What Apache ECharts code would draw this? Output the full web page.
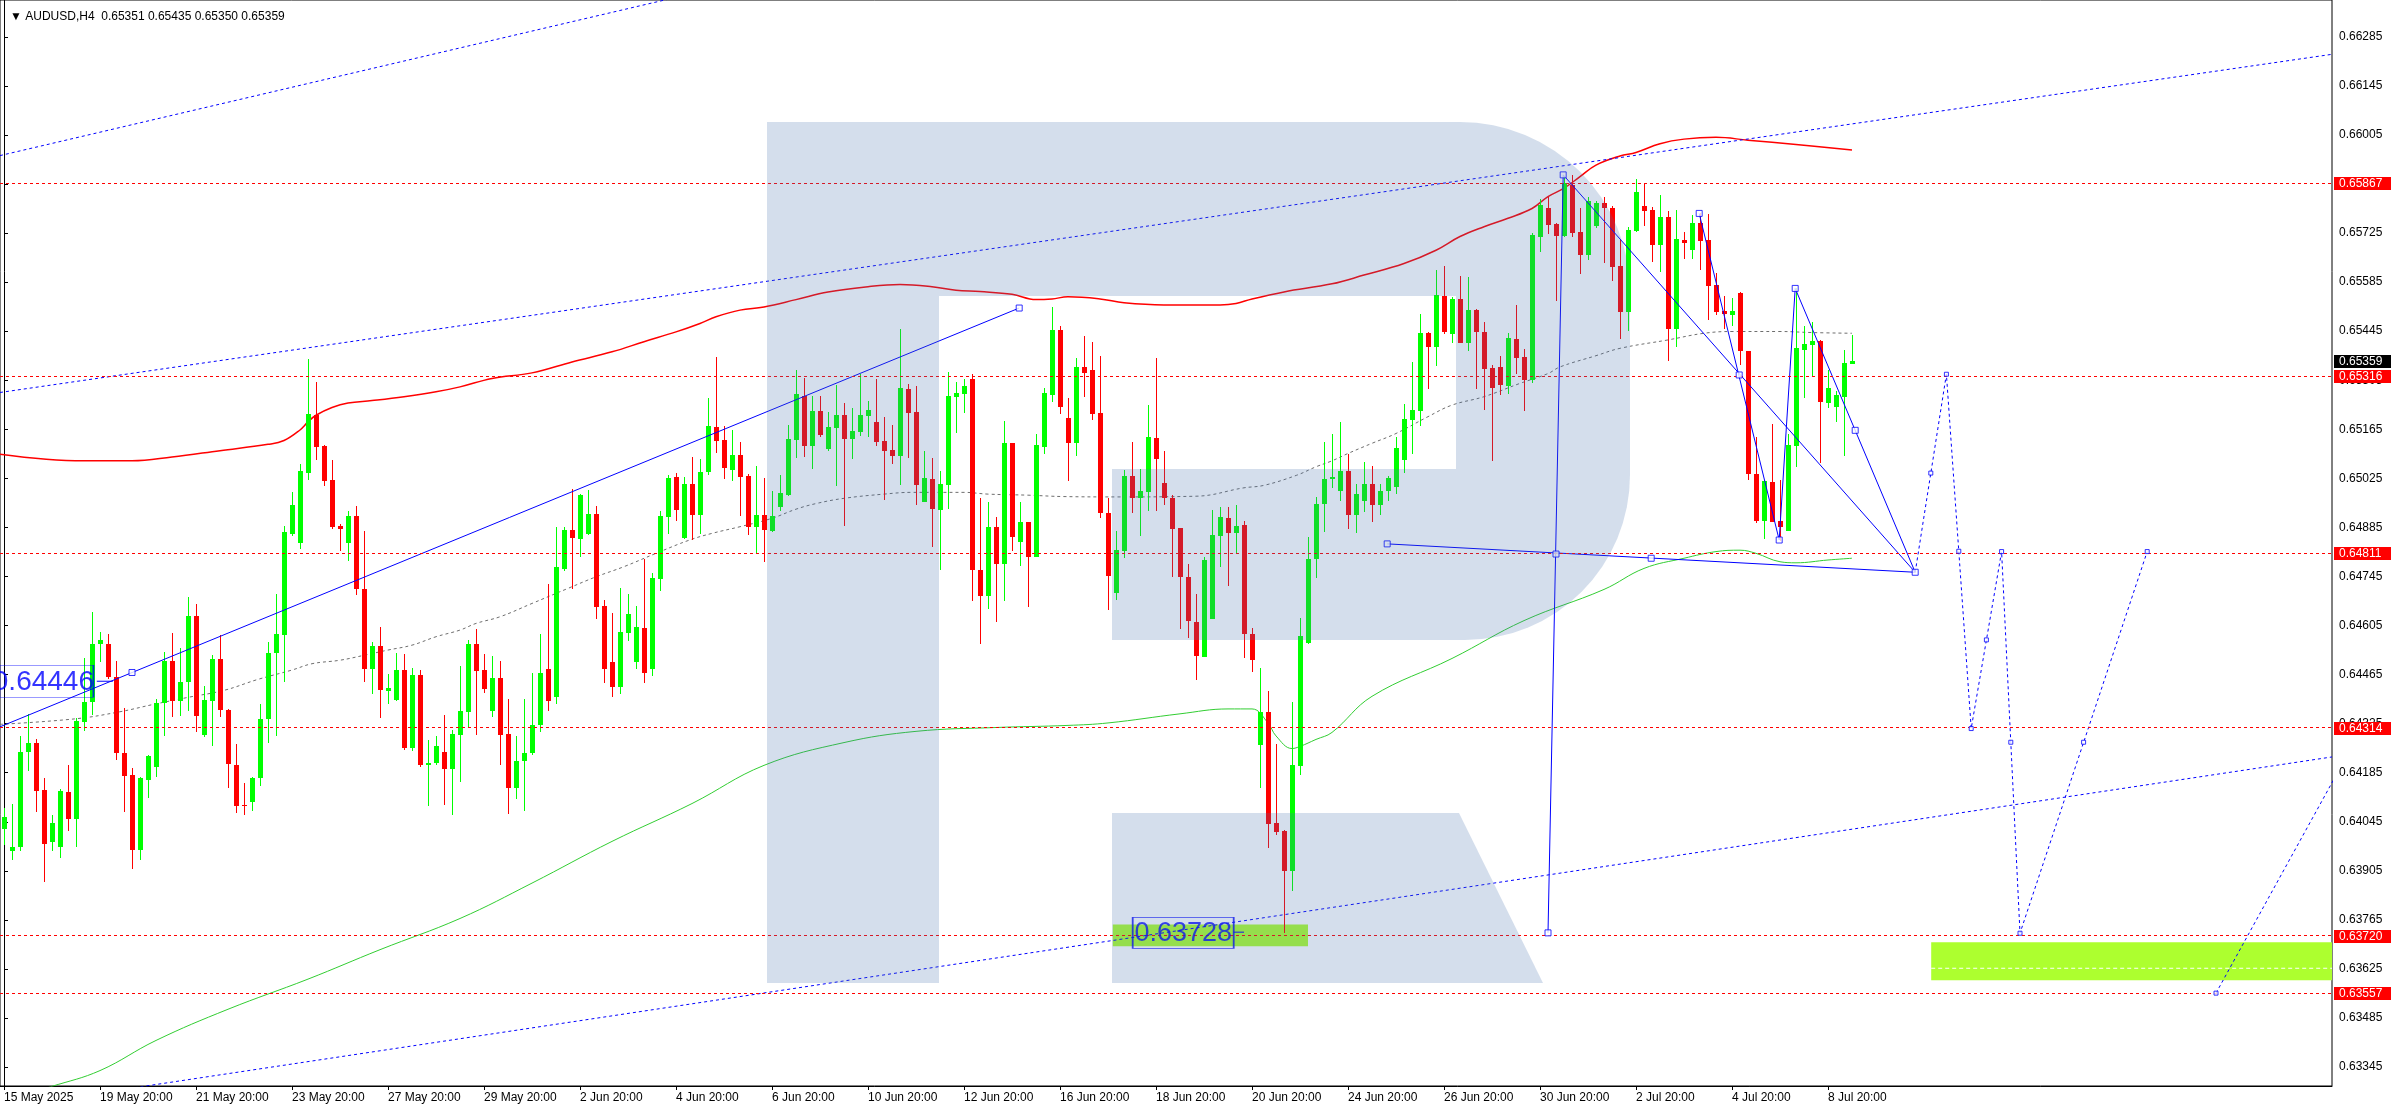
<!DOCTYPE html>
<html><head><meta charset="utf-8">
<script src="https://cdn.jsdelivr.net/npm/echarts@6/dist/echarts.min.js"></script>
<style>html,body{margin:0;padding:0;background:#fff}#c{width:2396px;height:1110px}</style>
</head><body><div id="c"></div>
<script>
// ---- candles (H4 bars, bar 0 = 15 May 2025 20:00) ----
const opens = [0.64023,0.63961,0.63972,0.64245,0.64269,0.64135,0.63986,0.63972,0.64129,0.64053,
0.64329,0.64388,0.64551,0.64551,0.64459,0.64240,0.64178,0.63965,0.64165,0.64200,
0.64385,0.64505,0.64390,0.64444,0.64632,0.64293,0.64390,0.64509,0.64364,0.64208,
0.64094,0.64102,0.64171,0.64337,0.64527,0.64578,0.64866,0.64841,0.65041,0.65205,
0.65117,0.65020,0.64889,0.64841,0.64917,0.64709,0.64481,0.64546,0.64418,0.64392,
0.64478,0.64256,0.64463,0.64206,0.64212,0.64243,0.64196,0.64292,0.64359,0.64552,
0.64478,0.64361,0.64454,0.64295,0.64142,0.64217,0.64240,0.64322,0.64480,0.64400,
0.64766,0.64877,0.64852,0.64866,0.64923,0.64660,0.64500,0.64430,0.64584,0.64500,
0.64598,0.64480,0.64737,0.64914,0.65028,0.64855,0.65008,0.64920,0.65043,0.65171,
0.65134,0.65048,0.65091,0.65031,0.64887,0.64920,0.64874,0.64943,0.64977,0.65134,
0.65261,0.65118,0.65217,0.65108,0.65169,0.65205,0.65137,0.65158,0.65203,0.65185,
0.65131,0.65106,0.65088,0.65280,0.65214,0.64957,0.65023,0.64934,0.65006,0.65257,
0.65265,0.65308,0.64763,0.64689,0.64886,0.64780,0.65126,0.64843,0.64900,0.64800,
0.65114,0.65262,0.65448,0.65198,0.65127,0.65343,0.65333,0.65211,0.64927,0.64697,
0.64818,0.65032,0.64969,0.64985,0.65141,0.65012,0.64970,0.64883,0.64743,0.64615,
0.64516,0.64625,0.64861,0.64912,0.64868,0.64892,0.64581,0.64264,0.64357,0.64041,
0.64018,0.63904,0.64205,0.64556,0.64795,0.64952,0.65024,0.64990,0.65046,0.64920,
0.64960,0.65010,0.64950,0.64990,0.65000,0.65077,0.65191,0.65218,0.65440,0.65401,
0.65545,0.65438,0.65537,0.65412,0.65505,0.65442,0.65340,0.65343,0.65289,0.65422,
0.65371,0.65306,0.65715,0.65796,0.65751,0.65717,0.65862,0.65728,0.65663,0.65746,
0.65811,0.65797,0.65631,0.65501,0.65731,0.65802,0.65791,0.65691,0.65771,0.65451,
0.65705,0.65678,0.65754,0.65705,0.65578,0.65503,0.65492,0.65555,0.65388,0.65038,
0.64904,0.65015,0.64904,0.64876,0.65118,0.65392,0.65406,0.65417,0.65241,0.65229,
0.65258,0.65351];
const highs = [0.64084,0.64097,0.64290,0.64352,0.64280,0.64170,0.64065,0.64138,0.64208,0.64342,
0.64512,0.64643,0.64586,0.64581,0.64505,0.64371,0.64198,0.64174,0.64235,0.64395,
0.64529,0.64584,0.64541,0.64686,0.64666,0.64433,0.64522,0.64579,0.64367,0.64267,
0.64157,0.64174,0.64380,0.64557,0.64694,0.64889,0.64985,0.65067,0.65365,0.65300,
0.65120,0.65077,0.64896,0.64931,0.64946,0.64874,0.64559,0.64600,0.64466,0.64526,
0.64523,0.64485,0.64477,0.64278,0.64289,0.64349,0.64306,0.64489,0.64563,0.64594,
0.64523,0.64517,0.64503,0.64395,0.64289,0.64395,0.64470,0.64580,0.64723,0.64886,
0.64886,0.64996,0.64979,0.64991,0.64945,0.64677,0.64641,0.64712,0.64695,0.64660,
0.64794,0.64754,0.64931,0.65035,0.65040,0.65028,0.65085,0.65080,0.65254,0.65371,
0.65174,0.65163,0.65128,0.65037,0.65060,0.65026,0.64988,0.65034,0.65177,0.65334,
0.65311,0.65260,0.65261,0.65214,0.65291,0.65239,0.65225,0.65324,0.65245,0.65308,
0.65200,0.65177,0.65451,0.65294,0.65288,0.65103,0.65083,0.65046,0.65328,0.65300,
0.65308,0.65322,0.64969,0.64957,0.64914,0.65188,0.65126,0.64957,0.64900,0.65151,
0.65282,0.65514,0.65459,0.65255,0.65367,0.65432,0.65415,0.65375,0.64970,0.64875,
0.65049,0.65129,0.65052,0.65235,0.65367,0.65102,0.64978,0.64883,0.64782,0.64695,
0.64800,0.64935,0.64944,0.64944,0.64949,0.64903,0.64598,0.64484,0.64417,0.64268,
0.64021,0.64387,0.64626,0.64859,0.64972,0.65129,0.65151,0.65185,0.65094,0.65010,
0.65071,0.65060,0.65010,0.65031,0.65144,0.65237,0.65357,0.65494,0.65443,0.65619,
0.65631,0.65543,0.65602,0.65599,0.65509,0.65471,0.65348,0.65374,0.65440,0.65519,
0.65394,0.65724,0.65822,0.65828,0.65754,0.65886,0.65891,0.65796,0.65828,0.65817,
0.65828,0.65802,0.65707,0.65743,0.65879,0.65866,0.65799,0.65834,0.65788,0.65791,
0.65728,0.65776,0.65782,0.65779,0.65612,0.65545,0.65540,0.65558,0.65388,0.65144,
0.65020,0.65181,0.65021,0.65152,0.65567,0.65460,0.65472,0.65420,0.65334,0.65274,
0.65391,0.65435];
const lows = [0.63980,0.63936,0.63963,0.64191,0.64074,0.63872,0.63963,0.63943,0.64020,0.63974,
0.64305,0.64351,0.64502,0.64453,0.64222,0.64072,0.63910,0.63936,0.64114,0.64174,
0.64291,0.64344,0.64347,0.64362,0.64301,0.64288,0.64262,0.64344,0.64140,0.64069,
0.64065,0.64076,0.64147,0.64271,0.64290,0.64444,0.64861,0.64823,0.65021,0.65077,
0.65004,0.64880,0.64818,0.64790,0.64692,0.64444,0.64410,0.64341,0.64382,0.64389,
0.64251,0.64247,0.64201,0.64090,0.64208,0.64093,0.64065,0.64159,0.64314,0.64294,
0.64413,0.64344,0.64208,0.64068,0.64111,0.64075,0.64235,0.64300,0.64360,0.64380,
0.64760,0.64708,0.64801,0.64863,0.64624,0.64440,0.64400,0.64410,0.64560,0.64480,
0.64440,0.64460,0.64703,0.64866,0.64903,0.64851,0.64849,0.64866,0.65034,0.65097,
0.65023,0.65018,0.64917,0.64863,0.64811,0.64786,0.64872,0.64931,0.64975,0.65083,
0.65087,0.65051,0.65144,0.65103,0.65003,0.64889,0.65080,0.65145,0.65143,0.65117,
0.64963,0.65066,0.65007,0.65083,0.64949,0.64957,0.64829,0.64763,0.64937,0.65153,
0.65211,0.64674,0.64552,0.64652,0.64615,0.64675,0.64817,0.64775,0.64658,0.64800,
0.65094,0.65242,0.65208,0.65018,0.65088,0.65258,0.65191,0.64912,0.64650,0.64677,
0.64799,0.64925,0.64861,0.64932,0.64932,0.64949,0.64744,0.64595,0.64570,0.64449,
0.64516,0.64625,0.64771,0.64719,0.64811,0.64513,0.64473,0.64141,0.63970,0.64008,
0.63728,0.63847,0.64179,0.64553,0.64742,0.64872,0.64998,0.64960,0.64880,0.64870,
0.64930,0.64900,0.64920,0.64960,0.64980,0.65039,0.65095,0.65175,0.65281,0.65346,
0.65437,0.65412,0.65412,0.65389,0.65281,0.65221,0.65075,0.65263,0.65266,0.65323,
0.65218,0.65298,0.65672,0.65723,0.65532,0.65715,0.65715,0.65609,0.65649,0.65740,
0.65640,0.65589,0.65424,0.65446,0.65728,0.65746,0.65643,0.65615,0.65361,0.65401,
0.65652,0.65652,0.65620,0.65478,0.65492,0.65452,0.65461,0.65349,0.65021,0.64898,
0.64853,0.64901,0.64847,0.64876,0.65056,0.65255,0.65317,0.65070,0.65227,0.65187,
0.65088,0.65350];
const closes = [0.64060,0.63972,0.64245,0.64270,0.64133,0.63982,0.64041,0.64132,0.64053,0.64332,
0.64388,0.64551,0.64565,0.64459,0.64242,0.64176,0.63965,0.64170,0.64232,0.64383,
0.64505,0.64390,0.64443,0.64632,0.64346,0.64392,0.64509,0.64364,0.64210,0.64091,
0.64090,0.64171,0.64339,0.64528,0.64580,0.64871,0.64948,0.65046,0.65208,0.65115,
0.65018,0.64887,0.64881,0.64917,0.64708,0.64481,0.64546,0.64421,0.64428,0.64479,
0.64256,0.64463,0.64206,0.64214,0.64262,0.64196,0.64295,0.64360,0.64552,0.64476,
0.64424,0.64454,0.64293,0.64142,0.64218,0.64240,0.64322,0.64470,0.64390,0.64772,
0.64877,0.64855,0.64977,0.64923,0.64658,0.64480,0.64430,0.64586,0.64637,0.64600,
0.64470,0.64740,0.64917,0.65026,0.64934,0.65008,0.64921,0.65043,0.65174,0.65131,
0.65055,0.65091,0.65028,0.64887,0.64920,0.64877,0.64917,0.64983,0.65137,0.65265,
0.65118,0.65217,0.65148,0.65171,0.65205,0.65137,0.65160,0.65205,0.65220,0.65128,
0.65103,0.65088,0.65282,0.65211,0.65006,0.65026,0.64937,0.65009,0.65260,0.65268,
0.65288,0.64763,0.64689,0.64886,0.64780,0.65126,0.64857,0.64900,0.64800,0.65120,
0.65268,0.65448,0.65228,0.65127,0.65343,0.65327,0.65210,0.64925,0.64747,0.64820,
0.65032,0.64969,0.64989,0.65143,0.65081,0.64969,0.64881,0.64744,0.64617,0.64518,
0.64792,0.64863,0.64915,0.64868,0.64889,0.64580,0.64508,0.64359,0.64040,0.64017,
0.63904,0.64206,0.64574,0.64795,0.64952,0.65024,0.65030,0.65046,0.64920,0.64980,
0.65010,0.64950,0.64990,0.65025,0.65112,0.65194,0.65220,0.65440,0.65401,0.65548,
0.65443,0.65537,0.65412,0.65505,0.65443,0.65338,0.65284,0.65292,0.65425,0.65369,
0.65306,0.65719,0.65805,0.65749,0.65717,0.65868,0.65726,0.65663,0.65816,0.65811,
0.65797,0.65629,0.65501,0.65734,0.65842,0.65788,0.65691,0.65771,0.65451,0.65708,
0.65698,0.65754,0.65703,0.65575,0.65501,0.65495,0.65503,0.65389,0.65036,0.64904,
0.65018,0.64901,0.64887,0.65121,0.65397,0.65408,0.65417,0.65244,0.65283,0.65263,
0.65353,0.65359];

// ---- axes ----
const xTickBars = [0,12,24,36,48,60,72,84,96,108,120,132,144,156,168,180,192,204,216,228];
const xTickLabels = ['15 May 2025','19 May 20:00','21 May 20:00','23 May 20:00','27 May 20:00','29 May 20:00',
 '2 Jun 20:00','4 Jun 20:00','6 Jun 20:00','10 Jun 20:00','12 Jun 20:00','16 Jun 20:00','18 Jun 20:00',
 '20 Jun 20:00','24 Jun 20:00','26 Jun 20:00','30 Jun 20:00','2 Jul 20:00','4 Jul 20:00','8 Jul 20:00'];
const yTickValues = [0.63345,0.63485,0.63625,0.63765,0.63905,0.64045,0.64185,0.64325,0.64465,0.64605,0.64745,
 0.64885,0.65025,0.65165,0.65305,0.65445,0.65585,0.65725,0.65865,0.66005,0.66145,0.66285];

// ---- levels / labels ----
const levelLines = [0.65867,0.65316,0.64811,0.64314,0.63720,0.63557];
const lastPrice = 0.65359;
const titleText = '\u25BC AUDUSD,H4  0.65351 0.65435 0.65350 0.65359';

// ---- moving averages (bar index, price) ----
const maRed = [[-0.5,0.65094],[10,0.65075],[16,0.65075],[21,0.65086],[27,0.65104],[33,0.65122],[35,0.65133],[37,0.65163],[38,0.65186],[39,0.65205],[41,0.65227],[43,0.65240],[46,0.65247],[50,0.65258],[54,0.65272],[57,0.65286],[61,0.65310],[66,0.65326],[71,0.65357],[76,0.65386],[80,0.65415],[84,0.65443],[87,0.65467],[89,0.65486],[92,0.65505],[95,0.65514],[99,0.65535],[103,0.65557],[108,0.65572],[112,0.65578],[116,0.65572],[119,0.65562],[122,0.65558],[126,0.65550],[129,0.65535],[131,0.65537],[133,0.65543],[137,0.65537],[140,0.65526],[145,0.65520],[152,0.65520],[154,0.65524],[156,0.65537],[160,0.65557],[166,0.65580],[170,0.65605],[175,0.65638],[179,0.65676],[182,0.65715],[185,0.65743],[188,0.65767],[191,0.65795],[193,0.65829],[195,0.65853],[197,0.65886],[199,0.65919],[202,0.65945],[204,0.65955],[207,0.65980],[210,0.65993],[214,0.65998],[218,0.65990],[224,0.65978],[231,0.65962]];
const maGreen = [[3,0.63270],[6,0.63290],[12,0.63335],[19,0.63421],[28,0.63510],[38,0.63596],[47,0.63680],[57,0.63769],[66,0.63870],[76,0.63989],[86,0.64097],[95,0.64206],[105,0.64271],[114,0.64303],[124,0.64314],[133,0.64320],[138,0.64327],[147,0.64353],[153,0.64367],[156,0.64367],[158,0.64327],[159,0.64290],[161,0.64254],[162,0.64260],[164,0.64280],[166,0.64300],[171,0.64403],[181,0.64511],[190,0.64619],[200,0.64708],[205,0.64768],[210,0.64797],[214,0.64816],[217,0.64820],[219,0.64811],[222,0.64787],[224,0.64784],[228,0.64792],[231,0.64797]];
const maGrey = [[-0.5,0.64323],[9,0.64339],[14.5,0.64359],[18.7,0.64380],[23,0.64400],[27.5,0.64420],[31.7,0.64451],[36,0.64478],[38.5,0.64496],[42,0.64506],[45,0.64520],[48,0.64535],[51,0.64549],[54,0.64573],[57,0.64592],[59,0.64611],[62,0.64630],[66,0.64668],[70.5,0.64711],[74,0.64744],[77.5,0.64773],[81.5,0.64811],[85.7,0.64849],[88.5,0.64868],[92,0.64887],[96,0.64911],[99,0.64937],[101.5,0.64953],[105,0.64968],[110,0.64980],[113.5,0.64985],[120,0.64985],[123,0.64980],[128,0.64977],[132.5,0.64973],[139,0.64972],[149,0.64974],[155,0.64998],[157.5,0.65005],[161.6,0.65034],[164,0.65058],[166,0.65075],[168,0.65096],[171,0.65125],[174,0.65153],[178,0.65201],[181,0.65234],[185,0.65258],[189.5,0.65296],[193,0.65324],[194.5,0.65343],[199,0.65375],[202,0.65396],[208,0.65420],[212.5,0.65439],[216,0.65444],[222,0.65444],[226,0.65441],[231,0.65439]];

// ---- drawn lines (bar index, price) ----
const channelTop = [[-0.5,0.65946],[100,0.66483]];
const channelUpper = [[-0.5,0.65270],[291,0.66235]];
const channelLower = [[0,0.63230],[291,0.64230]];
const forecastRise = [[276.5,0.63556],[292,0.64198]];
const trendA = [[-0.5,0.64316],[126.9,0.65511]];
const zigLines = [
  [[193,0.63728],[194.9,0.65891]],
  [[194.9,0.65891],[238.9,0.64757]],
  [[211.9,0.65781],[221.9,0.64849]],
  [[221.9,0.64849],[223.9,0.65567]],
  [[223.9,0.65567],[238.9,0.64757]],
  [[172.9,0.64838],[238.9,0.64757]]
];
const solidMarkers = [[16,0.64471],[126.9,0.65511],[193,0.63728],[194,0.64809],[194.9,0.65891],[211.9,0.65781],[216.9,0.65320],[221.9,0.64849],[223.9,0.65567],[231.4,0.65162],[238.9,0.64757],[172.9,0.64838],[205.9,0.64797]];
const forecastPath = [[238.9,0.64757],[242.8,0.65322],[245.9,0.64311],[249.7,0.64816],[252,0.63727],[267.9,0.64816]];
const forecastMarkers = [[240.85,0.65040],[242.8,0.65322],[244.35,0.64817],[245.9,0.64311],[247.8,0.64564],[249.7,0.64816],[250.85,0.64272],[252,0.63727],[259.95,0.64272],[267.9,0.64816],[276.5,0.63556]];
const zoneLeft = [[138.6,0.63752],[163,0.63690]];
const zoneRight = [[240.9,0.63701],[291,0.63593]];
const zoneMid = [[240.9,0.63627],[291,0.63627]];
const priceTags = [[5.3,0.64446],[147.4,0.63728]];
const tagLinks = [[[11.6,0.64446],[13.6,0.64446]],[[153.7,0.63730],[155,0.63730]]];

const FONT = 'Liberation Sans';
const BLUE = '#0000FF';
const X_END = 291;
const chart = echarts.init(document.getElementById('c'));
const candleData = opens.map((o,i)=>[i,o,closes[i],lows[i],highs[i]]);

function ln(data, color, type, width, z, smooth){
  return {type:'line', data:data, symbol:'none', smooth:smooth||false, z:z||3, silent:true, clip:true,
    lineStyle:{color:color, type:type, width:width}, emphasis:{disabled:true}, animation:false};
}
// axis price tags drawn through the y scale
function priceTag(values, bg){
  return {type:'custom', z:8, silent:true, clip:false, data:values.map(v=>[X_END, v]), encode:{x:0,y:1},
    renderItem:function(params, api){
      const p = api.coord([api.value(0), api.value(1)]);
      const y = Math.round(p[1]);
      return {type:'group', children:[
        {type:'rect', shape:{x:p[0]+2, y:y-6, width:57, height:13}, style:{fill:bg}},
        {type:'text', style:{x:p[0]+7, y:y+1, text:api.value(1).toFixed(5), fill:'#FFFFFF',
          fontSize:12, fontFamily:FONT, verticalAlign:'middle', align:'left'}}
      ]};
    }};
}
const series = [];
// zones
series.push({type:'line', data:[], z:1, silent:true, markArea:{silent:true, itemStyle:{color:'#ADFF2F', opacity:1},
  data:[[{coord:zoneLeft[0]},{coord:zoneLeft[1]}],[{coord:zoneRight[0]},{coord:zoneRight[1]}]]}});
series.push(ln(zoneMid,'#FFFFFF',[4,3],1,2));
// level lines
series.push({type:'line', data:[], z:2, silent:true, markLine:{silent:true, precision:5, symbol:['none','none'],
  lineStyle:{color:'#FF0000', type:[3,3], width:1}, label:{show:false},
  data:levelLines.map(v=>({yAxis:v}))}});
series.push(priceTag(levelLines,'#FF0000'));
series.push(priceTag([lastPrice],'#000000'));
// MAs
series.push(ln(maGreen,'#32CD32','solid',1,2,0.4));
series.push(ln(maRed,'#FF0000','solid',1.5,2,0.4));
series.push(ln(maGrey,'#6E6E6E',[3,3],1,2,0.4));
// channels
series.push(ln(channelTop,BLUE,[3,3],1,2));
series.push(ln(channelUpper,BLUE,[3,3],1,2));
series.push(ln(channelLower,BLUE,[3,3],1,2));
series.push(ln(forecastRise,BLUE,[3,3],1,2));
series.push(ln(forecastPath,BLUE,[3,3],1,2));
// candles
series.push({type:'custom', data:candleData, z:3, clip:true, silent:true, encode:{x:0,y:[1,2,3,4]},
  renderItem:function(params, api){
    const i=api.value(0), o=api.value(1), c=api.value(2), l=api.value(3), h=api.value(4);
    const pO=api.coord([i,o]), pC=api.coord([i,c]), pH=api.coord([i,h]), pL=api.coord([i,l]);
    const x=Math.floor(pO[0]);
    const col = c>=o ? '#00FF00' : '#FF0000';
    const top=Math.round(Math.min(pO[1],pC[1]));
    let bot=Math.round(Math.max(pO[1],pC[1]));
    if(bot-top<1) bot=top+1;
    const yh=Math.round(pH[1]), yl=Math.round(pL[1]);
    return {type:'group', children:[
      {type:'rect', shape:{x:x, y:yh, width:1, height:Math.max(1,yl-yh)}, style:{fill:col}},
      {type:'rect', shape:{x:x-2, y:top, width:5, height:bot-top}, style:{fill:col}}
    ]};
  }});
// solid blue lines
series.push(ln(trendA,BLUE,'solid',1,4));
zigLines.forEach(z=>series.push(ln(z,BLUE,'solid',1,4)));
tagLinks.forEach(z=>series.push(ln(z,BLUE,'solid',1,4)));
// markers
const markerStyle = {color:'#FFFFFF', borderColor:BLUE, borderWidth:1};
series.push({type:'scatter', data:solidMarkers, symbol:'rect', symbolSize:6, z:5, silent:true, itemStyle:markerStyle});
series.push({type:'scatter', data:forecastMarkers, symbol:'rect', symbolSize:4, z:5, silent:true, itemStyle:markerStyle});
// price tags on chart
series.push({type:'scatter', z:6, silent:true, symbol:'rect', clip:true,
  itemStyle:{color:'rgba(255,255,255,0)', borderColor:BLUE, borderWidth:1},
  label:{show:true, position:'inside', color:BLUE, fontFamily:FONT, formatter:p=>p.value[1].toFixed(5)},
  data:[
    {value:priceTags[0], symbolSize:[94,32], label:{fontSize:28, offset:[-3,1]}},
    {value:priceTags[1], symbolSize:[101,31], label:{fontSize:27, offset:[0,1]}}
  ]});

const logoFill = 'rgba(70,113,175,0.23)';
const option = {
  animation:false,
  backgroundColor:'#FFFFFF',
  title:{text:titleText, left:5, top:6, textStyle:{fontSize:12, fontWeight:'normal', color:'#000', fontFamily:FONT}},
  grid:{left:0, right:64, top:0, bottom:24, show:true, borderColor:'#000', borderWidth:1, backgroundColor:'rgba(0,0,0,0)'},
  xAxis:{type:'value', min:-0.5, max:X_END, splitLine:{show:false},
    axisLine:{show:true, onZero:false, lineStyle:{color:'#000', width:1}},
    axisTick:{show:true, length:4, customValues:xTickBars, lineStyle:{color:'#000'}},
    axisLabel:{customValues:xTickBars, formatter:v=>xTickLabels[Math.round(v/12)], align:'left', margin:6,
      color:'#000', fontSize:12, fontFamily:FONT}},
  yAxis:{type:'value', position:'right', min:0.63291, max:0.66390, scale:true, splitLine:{show:false},
    axisLine:{show:true, lineStyle:{color:'#000', width:1}},
    axisTick:{show:true, length:4, customValues:yTickValues, lineStyle:{color:'#000'}},
    axisLabel:{customValues:yTickValues, formatter:v=>v.toFixed(5), margin:7, color:'#000', fontSize:12, fontFamily:FONT}},
  graphic:[
    {type:'rect', silent:true, z:100, shape:{x:767,y:122,width:172,height:861}, style:{fill:logoFill}},
    {type:'rect', silent:true, z:100, shape:{x:939,y:122,width:517,height:174}, style:{fill:logoFill}},
    {type:'rect', silent:true, z:100, shape:{x:1456,y:122,width:174,height:518,r:[0,170,165,0]}, style:{fill:logoFill}},
    {type:'rect', silent:true, z:100, shape:{x:1112,y:469,width:344,height:171}, style:{fill:logoFill}},
    {type:'polygon', silent:true, z:100, shape:{points:[[1112,813],[1459,813],[1543,983],[1112,983]]}, style:{fill:logoFill}}
  ],
  series:series
};
chart.setOption(option);
</script>
</body></html>
